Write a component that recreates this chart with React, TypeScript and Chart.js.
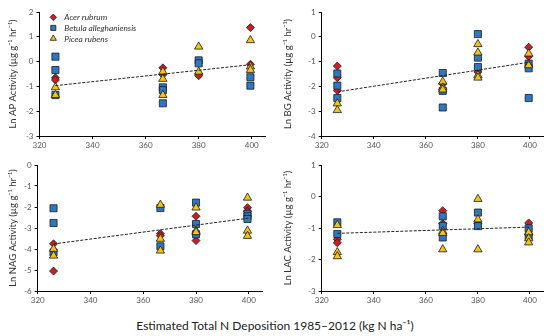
import React, { useEffect, useRef } from "react";
import { Chart, registerables } from "chart.js";
import { drawPoint } from "chart.js/helpers";
Chart.register(...registerables);

const deposition = [326, 366.5, 380, 399.5];
const speciesNames = ["Acer rubrum", "Betula alleghaniensis", "Picea rubens"];
const xTicks = [320, 340, 360, 380, 400];
const trendX = [326, 400];

// AP activity (per site, values per species)
const apAcer = [[-0.65, -0.74], [-0.25, -0.53], [-0.5, -0.57], [1.37, -0.11]];
const apBetula = [[0.2, -0.34, -1.35], [-1.04, -1.15, -1.68], [0.05, -0.07], [-0.63, -0.97]];
const apPicea = [[-1.04, -1.35], [-0.41, -0.7, -1.35], [0.6, -0.41], [0.86, -0.2, -0.34]];
const apTrend = [-0.97, -0.12];

// BG activity
const bgAcer = [[-1.18, -1.65, -2.17], [-1.9], [-1.42], [-0.42, -0.79]];
const bgBetula = [[-1.48, -1.97, -2.47], [-1.46, -2.18, -2.85], [0.11, -0.84, -1.22], [-1.08, -1.27, -2.47]];
const bgPicea = [[-2.69, -2.96], [-1.81, -2.05, -2.13], [-0.3, -0.64, -1.55, -1.65], [-0.68, -1.15]];
const bgTrend = [-2.22, -1.02];

// NAG activity
const nagAcer = [[-3.75, -5.05], [-3.27, -3.37], [-2.44, -3.6], [-2.03, -2.2]];
const nagBetula = [[-2.06, -2.76, -4.17], [-2.05, -3.87], [-1.79, -2.81, -3.3], [-2.32, -2.44, -2.57]];
const nagPicea = [[-4.0, -4.32], [-1.9, -3.52, -4.08], [-2.03, -3.14, -3.2], [-1.56, -3.13, -3.38]];
const nagTrend = [-3.76, -2.53];

// LAC activity
const lacAcer = [[-1.36, -1.47], [-0.45, -0.86], [-0.86], [-0.84, -1.21]];
const lacBetula = [[-0.82, -1.19], [-0.63, -0.93, -1.3], [-0.51, -0.94], [-1.01, -1.26]];
const lacPicea = [[-0.91, -1.77, -1.9], [-1.1, -1.16, -1.68], [-0.08, -0.73, -1.68], [-1.14, -1.33, -1.46]];
const lacTrend = [-1.17, -0.97];

const FONT = "Lato, 'Liberation Sans', sans-serif";

function toPoints(perSite: number[][]) {
  const pts: { x: number; y: number }[] = [];
  perSite.forEach((vals, i) => vals.forEach((v) => pts.push({ x: deposition[i], y: v })));
  return pts;
}

const insideLegend = {
  id: "insideLegend",
  afterDraw(chart: any, _args: any, opts: any) {
    if (!opts || !opts.show) return;
    const ctx = chart.ctx;
    const area = chart.chartArea;
    const sizes = [3.2, 3.6, 3.6];
    ctx.save();
    for (let i = 0; i < 3; i++) {
      const ds = chart.data.datasets[i + 1];
      const y = area.top + 5.3 + i * 10.6;
      const x = area.left + 13.8;
      ctx.fillStyle = ds.backgroundColor;
      ctx.strokeStyle = ds.borderColor;
      ctx.lineWidth = ds.borderWidth;
      drawPoint(ctx, { pointStyle: ds.pointStyle, radius: sizes[i], borderWidth: ds.borderWidth, rotation: 0 } as any, x, y);
      ctx.fillStyle = "#333";
      ctx.font = `italic 8.3px ${FONT}`;
      ctx.textBaseline = "middle";
      ctx.textAlign = "left";
      ctx.fillText(ds.label, area.left + 24.8, y + 0.5);
    }
    ctx.restore();
  },
};

type PanelProps = {
  left: number;
  top: number;
  areaLeft: number;
  areaTop: number;
  areaRight: number;
  areaBottom: number;
  yMin: number;
  yMax: number;
  title: string;
  acer: number[][];
  betula: number[][];
  picea: number[][];
  trend: number[];
  legend?: boolean;
};

const W = 275;
const H = 155;

function Panel(p: PanelProps) {
  const ref = useRef<HTMLCanvasElement>(null);
  useEffect(() => {
    if (!ref.current) return;
    const markerBorder = "#1a1a1a";
    const chart = new Chart(ref.current, {
      type: "scatter",
      plugins: [insideLegend],
      data: {
        datasets: [
          {
            type: "line",
            label: "trend",
            data: trendX.map((x, i) => ({ x, y: p.trend[i] })),
            borderColor: "#222",
            borderWidth: 1,
            borderDash: [3, 1.5],
            pointRadius: 0,
            fill: false,
            order: 0,
          } as any,
          {
            label: speciesNames[0],
            data: toPoints(p.acer),
            pointStyle: "rectRot",
            pointRadius: 4.0,
            backgroundColor: "#C81E28",
            borderColor: markerBorder,
            borderWidth: 0.8,
            order: 3,
          },
          {
            label: speciesNames[1],
            data: toPoints(p.betula),
            pointStyle: "rect",
            pointRadius: 5,
            backgroundColor: "#2E78C2",
            borderColor: markerBorder,
            borderWidth: 0.8,
            order: 2,
          },
          {
            label: speciesNames[2],
            data: toPoints(p.picea),
            pointStyle: "triangle",
            pointRadius: 4.8,
            backgroundColor: "#F2C418",
            borderColor: markerBorder,
            borderWidth: 0.8,
            order: 1,
          },
        ],
      },
      options: {
        animation: false,
        responsive: false,
        layout: {
          padding: { left: 0, top: p.areaTop, right: W - p.areaRight, bottom: 0 },
        },
        plugins: {
          tooltip: { enabled: false },
          legend: { display: false },
          insideLegend: { show: !!p.legend },
        } as any,
        scales: {
          x: {
            type: "linear",
            min: 320,
            max: 405,
            afterBuildTicks: (s: any) => {
              s.ticks = xTicks.map((v) => ({ value: v }));
            },
            afterFit: (s: any) => {
              s.height = H - p.areaBottom;
            },
            ticks: { color: "#555", font: { family: FONT, size: 8 }, padding: 2 },
            grid: { display: true, drawOnChartArea: false, drawTicks: true, tickLength: 3, color: "#000" },
            border: { display: true, color: "#000", width: 1 },
          },
          y: {
            type: "linear",
            min: p.yMin,
            max: p.yMax,
            afterFit: (s: any) => {
              s.width = p.areaLeft;
            },
            ticks: { stepSize: 1, color: "#555", font: { family: FONT, size: 8 }, padding: 3 },
            grid: { display: true, drawOnChartArea: false, drawTicks: true, tickLength: 3, color: "#000" },
            border: { display: true, color: "#000", width: 1 },
            title: {
              display: true,
              text: p.title,
              color: "#333",
              font: { family: FONT, size: 9.5 },
              padding: { top: 7, bottom: 0 },
            },
          },
        },
      },
    });
    return () => chart.destroy();
  }, []);
  return (
    <div style={{ position: "absolute", left: p.left, top: p.top, width: W, height: H }}>
      <canvas ref={ref} width={W} height={H} style={{ width: W, height: H, display: "block" }} />
    </div>
  );
}

export default function App() {
  return (
    <div style={{ position: "fixed", left: 0, top: 0, width: 550, height: 336, background: "#fff", overflow: "hidden" }}>
      <Panel left={0} top={0} areaLeft={39.5} areaTop={12} areaRight={265} areaBottom={136} yMin={-3} yMax={2}
        title="Ln AP Activity (µg g⁻¹ hr⁻¹)" acer={apAcer} betula={apBetula} picea={apPicea} trend={apTrend} legend />
      <Panel left={275} top={0} areaLeft={46.7} areaTop={12} areaRight={268} areaBottom={136} yMin={-4} yMax={1}
        title="Ln BG Activity (µg g⁻¹ hr⁻¹)" acer={bgAcer} betula={bgBetula} picea={bgPicea} trend={bgTrend} />
      <Panel left={0} top={155} areaLeft={37.7} areaTop={10} areaRight={262} areaBottom={136} yMin={-6} yMax={0}
        title="Ln NAG Activity (µg g⁻¹ hr⁻¹)" acer={nagAcer} betula={nagBetula} picea={nagPicea} trend={nagTrend} />
      <Panel left={275} top={155} areaLeft={46.7} areaTop={10} areaRight={268} areaBottom={136} yMin={-3} yMax={1}
        title="Ln LAC Activity (µg g⁻¹ hr⁻¹)" acer={lacAcer} betula={lacBetula} picea={lacPicea} trend={lacTrend} />
      <div style={{ position: "absolute", left: 0, top: 318, width: 550, textAlign: "center", fontFamily: FONT, fontSize: 12, color: "#222" }}>
        Estimated Total N Deposition 1985–2012 (kg N ha⁻¹)
      </div>
    </div>
  );
}
